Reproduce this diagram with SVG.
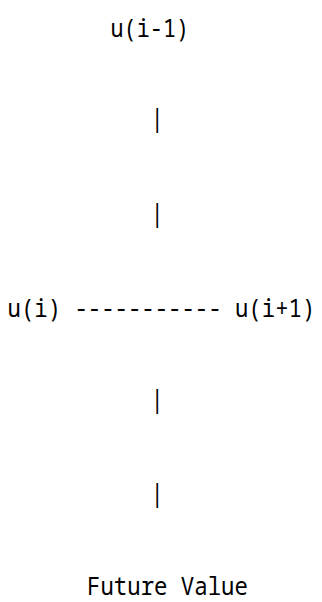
<svg xmlns="http://www.w3.org/2000/svg" width="322" height="602" viewBox="0 0 322 602">
<style>
text{font-family:"Noto Sans Mono","Droid Sans Mono","DejaVu Sans Mono",monospace;font-size:26px;fill:#000;white-space:pre}
</style>
<rect width="322" height="602" fill="#fff"/>
<g id="n-u-im1"><text transform="translate(110.5,37) scale(0.84,1)">u(i-1)</text></g>
<g id="connectors">
<text transform="translate(150.6,127) scale(0.858,1)">|</text>
<text transform="translate(150.6,222) scale(0.858,1)">|</text>
<text transform="translate(150.6,408) scale(0.858,1)">|</text>
<text transform="translate(150.6,502) scale(0.858,1)">|</text>
</g>
<g id="n-row"><text transform="translate(7.5,317) scale(0.858,1)">u(i) ----------- u(i+1)</text></g>
<g id="n-future"><text transform="translate(87,594.5) scale(0.86,1)">Future Value</text></g>
</svg>
